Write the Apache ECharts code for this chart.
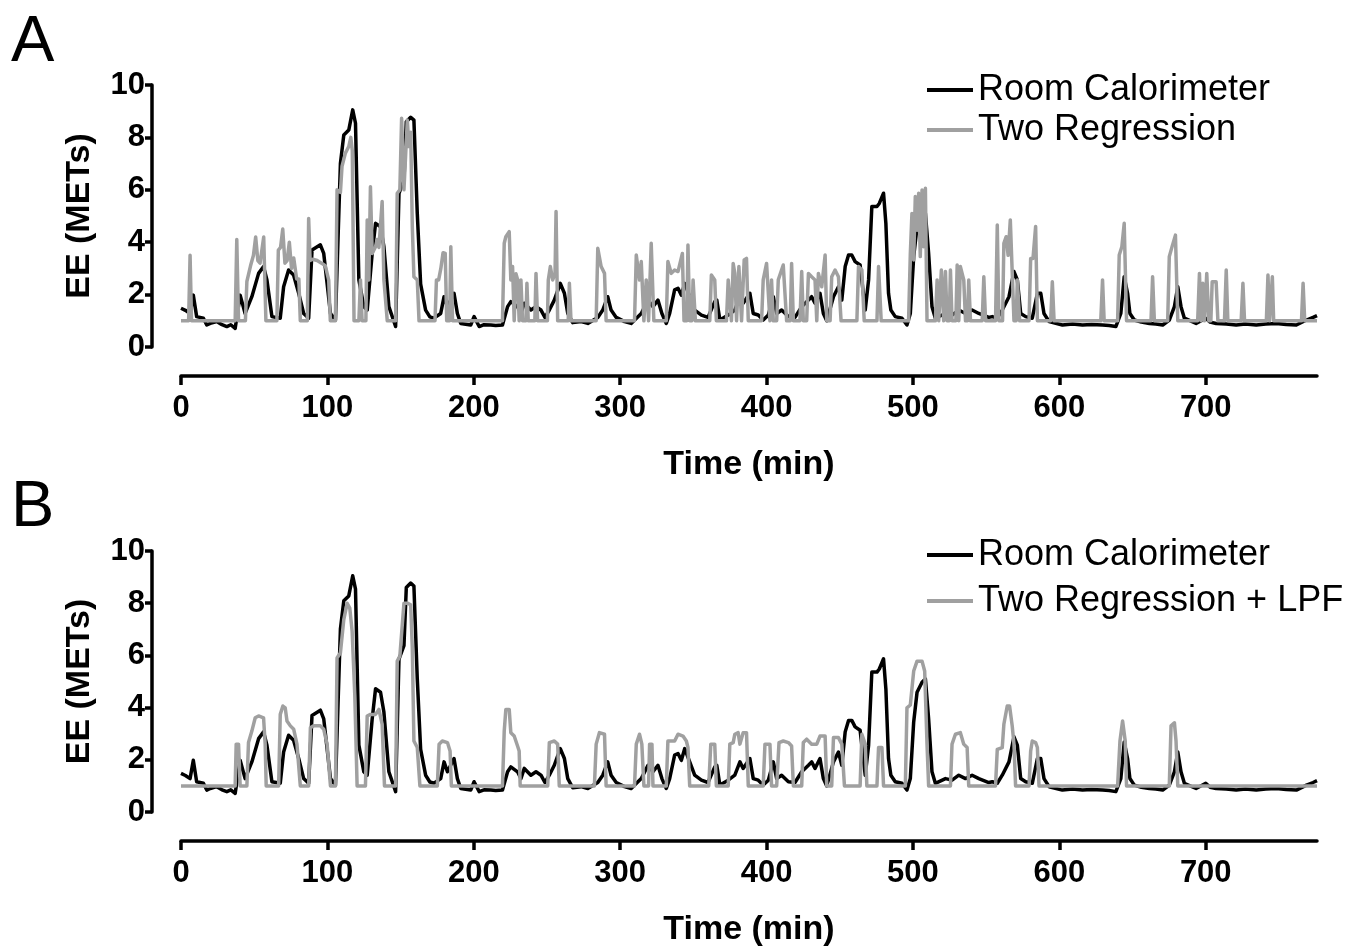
<!DOCTYPE html>
<html>
<head>
<meta charset="utf-8">
<script src="https://cdn.jsdelivr.net/npm/echarts@6/dist/echarts.min.js"></script>
<style>
html,body{margin:0;padding:0;background:#fff;}
#chart{width:1357px;height:948px;}
</style>
</head>
<body>
<div id="chart"></div>
<script>
// ---- data (time in min, EE in METs) ----
const xTicks = [0, 100, 200, 300, 400, 500, 600, 700];
const yTicks = [0, 2, 4, 6, 8, 10];
const xMax = 776;

const calorimeter = [[0,1.48],[3,1.4],[6.2,1.28],[8.4,1.98],[10.7,1.16],[15.3,1.1],[17.6,0.84],[20,0.9],[24.4,0.97],[28,0.85],[31.3,0.78],[34,0.85],[37,0.71],[40.4,1.98],[43.8,1.28],[48.4,1.92],[53,2.81],[56.4,3.07],[58.7,2.56],[62.1,1.16],[67.8,1.1],[70.1,2.3],[73.5,2.94],[76.9,2.75],[80.4,2.05],[83.8,1.28],[87.2,1.1],[89.5,3.7],[95.2,3.9],[97.5,3.57],[102.1,1.28],[105.5,1.03],[108.9,7.01],[111.2,8.09],[114.6,8.28],[117.3,9.05],[119.2,8.54],[121.5,2.56],[124.9,1.54],[127.2,1.41],[130.6,3.57],[132.9,4.72],[136.3,4.59],[138.6,3.83],[142,1.54],[146.6,0.78],[148.9,5.86],[152.3,6.37],[153.9,8.6],[156.9,8.77],[159.1,8.66],[161.4,5.1],[163.7,2.4],[167.1,1.41],[170,1.15],[172.8,1.1],[177.4,1.28],[179.7,1.92],[182,1.54],[186.5,2.05],[188.8,1.28],[191.1,0.9],[197.9,0.84],[200.2,1.16],[203.7,0.78],[207,0.85],[211.6,0.84],[215,0.82],[219.6,0.84],[223.1,1.54],[225.3,1.73],[229.9,1.54],[232.2,1.28],[234.5,1.67],[239,1.41],[242.5,1.54],[245.9,1.41],[248.6,1.13],[251.6,1.41],[255,1.79],[259.1,2.43],[261.9,2.05],[264.2,1.28],[267.6,0.93],[273.3,0.97],[277.9,0.9],[284.7,1.13],[288.1,1.41],[291.5,1.92],[293.8,1.41],[297.3,1.13],[303,0.97],[307.5,0.9],[314.4,1.28],[319,1.79],[322.4,1.54],[325.8,1.79],[328.5,1.28],[331.5,0.9],[333.8,1.28],[337.2,2.18],[339.5,2.24],[341.8,1.98],[344.1,2.43],[347.5,1.92],[350.9,1.41],[355.5,1.22],[360,1.13],[364.6,1.73],[366,1.79],[368.1,1.03],[373.8,1.22],[378.3,1.41],[381.8,1.92],[384,1.67],[388.6,2.05],[390.9,1.28],[394.3,1.22],[397.7,1.03],[401.2,1.22],[404.6,1.92],[406.9,1.28],[410.3,1.41],[414.9,1.16],[419.4,1.13],[424,1.54],[428.6,1.79],[430.8,1.92],[433.1,1.67],[436.5,2.05],[438.8,1.28],[441.1,1.0],[445.7,1.92],[449.1,2.3],[451.4,1.79],[453.7,3.07],[456,3.51],[458.2,3.51],[460.5,3.26],[463.9,3.13],[467.4,1.41],[469.7,2.56],[471.9,5.36],[475.4,5.36],[477,5.48],[479.9,5.87],[481.5,4.72],[483.3,2.05],[484.9,1.41],[487.9,1.16],[492.5,1.1],[495.9,0.84],[498.2,1.28],[500.5,3.45],[502.8,4.59],[506.2,4.97],[508.5,5.1],[510.7,3.57],[513,1.54],[515.3,1.1],[522.2,1.28],[526.7,1.22],[531.3,1.41],[535.9,1.28],[540.4,1.41],[545,1.28],[551.8,1.13],[554.2,1.16],[557.6,1.1],[561,1.41],[565.6,1.92],[569,2.88],[571.3,2.56],[573.6,1.28],[577,1.16],[581.5,1.1],[585,2.05],[587.3,2.05],[589.5,1.28],[593,0.97],[602.1,0.84],[609,0.88],[615.8,0.84],[622,0.86],[629.5,0.84],[634,0.82],[638.6,0.78],[642,1.28],[644.3,2.68],[646.6,2.05],[648.2,1.28],[651.2,1.03],[656,0.95],[661.5,0.9],[666,0.88],[670.6,0.84],[675.1,1.03],[678.6,1.54],[680.9,2.3],[683.1,1.54],[685.4,1.1],[693.4,0.9],[700,1.1],[703,0.95],[707.1,0.9],[714,0.88],[720.8,0.84],[727,0.88],[734.5,0.84],[741,0.88],[748.2,0.9],[755,0.86],[761.9,0.84],[768.8,1.03],[773.3,1.13],[776,1.2]];

const twoRegression = [[0,1],[5.2,1],[6.2,3.5],[7.2,1],[37,1],[38.1,4.1],[39.3,1],[44,1],[45,2.5],[47.5,3.1],[49.5,3.5],[51,4.2],[52.5,3.3],[54,3.2],[56.5,4.2],[58,1],[65.5,1],[66.5,3.7],[68,3.8],[69.5,4.5],[71,3.2],[72.5,3.3],[74,4.0],[75.5,3.0],[77,3.4],[79,2.6],[80.5,2.6],[81.5,1],[86.3,1],[87.2,4.9],[88.2,3.3],[90,3.35],[93,3.3],[96,3.2],[98.6,3.1],[100.9,2.55],[102,1],[105.5,1],[106.6,6.0],[108.9,5.9],[110,6.9],[112.3,7.4],[114.6,7.65],[116,8.0],[117,7.5],[118.2,1],[121.5,1],[122.6,2.56],[123.7,1],[126.3,1],[127.2,4.85],[128.3,2.56],[129.4,6.12],[130.6,3.57],[132.9,3.83],[134,4.1],[135.2,3.8],[137.4,5.55],[138.6,2.56],[140.9,1],[146.6,1],[147.7,5.87],[149.5,6.0],[150.7,8.73],[152.3,6.0],[154.6,8.66],[155.7,7.65],[156.9,8.2],[158,4.6],[159.1,2.68],[161.4,2.56],[162.6,1],[173.5,1],[174.5,2.56],[176,2.56],[177.5,3.0],[179,3.6],[180.5,3.57],[181.5,1],[183.5,1],[184.3,3.83],[185.5,1],[219.6,1],[220.8,3.96],[221.9,4.21],[224.2,4.4],[225.3,2.56],[226.5,3.07],[227.6,1],[228.8,2.8],[230,2.56],[231,1],[232.2,2.56],[233.3,1],[235.6,1],[236.3,2.43],[237.2,1],[241.7,1],[242.5,2.81],[243.6,1],[250.3,1],[250.9,2.56],[252.3,3.07],[253.9,2.56],[255.5,2.8],[256.2,5.17],[257.3,1],[264.5,1],[265.3,2.43],[266.4,1],[283.6,1],[284.7,3.77],[287,3.07],[289.3,2.81],[290.4,1],[309.8,1],[311,3.51],[313.2,2.56],[314.4,3.26],[316.2,1],[317,1],[317.8,2.56],[319.4,1],[320.4,1],[321.2,3.96],[323,1],[331.5,1],[332.6,3.26],[334.9,2.81],[337.2,2.94],[339.5,2.88],[342.5,3.57],[343.6,1],[345.5,1],[346.3,3.89],[347.5,1],[349,1],[349.8,2.56],[351.4,1],[361.2,1],[362.3,2.75],[364.6,2.56],[365.7,1],[372.6,1],[373.8,2.56],[376,1],[377.2,3.19],[378.3,2.81],[379.5,1],[380.4,1],[381.1,3.07],[382.9,1],[384,1],[384.7,3.32],[386.3,3.38],[387.5,1],[396.6,1],[397.7,2.56],[400,3.19],[402.3,1],[403.4,2.56],[404.6,1],[406.9,1],[408,2.56],[411.4,3.13],[413.7,1],[416.2,1],[417.1,3.19],[418.3,1],[422.8,1],[424,2.88],[425.1,1],[427.4,1],[428.6,2.81],[430.8,2.68],[433.1,2.56],[434.3,1],[435.4,2.81],[437.7,2.3],[440,3.51],[441.1,1],[443.4,1],[444.5,2.68],[446.8,2.94],[449.1,2.68],[450.9,1],[461.7,1],[462.8,3.07],[465.1,2.94],[466.7,1],[475.4,1],[476.5,3.07],[478.3,1],[497,1],[498.2,3.57],[499.3,5.1],[500.5,3.32],[501.6,5.74],[502.8,4.46],[503.9,5.87],[505,3.45],[506.2,5.99],[507.3,3.83],[508.5,6.06],[509.6,1],[515.3,1],[516.5,2.56],[517.6,1],[518.5,1],[519.4,2.94],[521,1],[521.5,1],[522.2,2.88],[523.3,1],[524.8,1],[525.6,2.94],[526.7,1],[529.3,1],[530.2,3.13],[531.3,1],[531.8,1],[532.4,3.07],[534.7,2.56],[535.9,1],[537.3,1],[538.1,2.56],[539.3,1],[547.3,1],[548.4,2.68],[549.6,1],[556.4,1],[557.6,4.66],[558.7,1],[561.2,1],[562.1,3.96],[563.7,4.21],[565,3.5],[566.5,4.85],[567.8,4.85],[569,1],[570.5,1],[571.3,2.56],[572.9,1],[579.3,1],[580.4,3.38],[582,3.38],[583.8,4.6],[585,1],[594.1,1],[595.2,2.49],[596.4,1],[628.3,1],[629.5,2.56],[630.6,1],[639.8,1],[640.9,3.51],[642.7,3.83],[644.3,4.72],[645.9,1],[662.6,1],[663.7,2.68],[664.9,1],[674,1],[675.1,3.45],[677,3.83],[679.3,4.27],[680.9,1],[694.5,1],[695.7,2.81],[696.8,1],[697.5,1],[698,2.43],[699.1,1],[700,1],[700.7,2.81],[702.1,1],[703.5,1],[704.4,2.49],[707.1,2.49],[708.3,1],[712.8,1],[714,2.94],[715.1,1],[724.2,1],[725.4,2.43],[726.5,1],[741.4,1],[742.5,2.75],[743.6,1],[744.5,1],[745.5,2.68],[746.4,1],[765.4,1],[766.5,2.43],[767.6,1],[776,1]];

const twoRegressionLPF = [[0,1],[37,1],[37.7,2.6],[39.3,2.6],[40.4,1],[45,1],[46.1,2.66],[47.3,2.7],[48.4,3.1],[50.7,3.61],[53,3.68],[56.4,3.61],[57.5,2.6],[58.2,1],[66.7,1],[67.8,3.74],[69.6,4.06],[71.2,3.99],[72.4,3.49],[74.7,3.3],[77,3.17],[79.2,2.6],[81.5,1],[87.2,1],[88.4,3.23],[90.6,3.3],[95.2,3.3],[97.5,3.17],[99.8,2.6],[102.1,1],[105.5,1],[106.6,5.9],[108.9,6.1],[111.2,7.37],[113.5,8.0],[115.3,7.81],[116.9,6.92],[118.7,4.5],[120.3,1],[126,1],[127.2,3.68],[129.4,3.74],[132.9,3.74],[135.2,3.93],[137.4,3.36],[139,1],[146.6,1],[147.7,5.78],[149.5,5.97],[152.3,8.0],[154.6,8.0],[156.9,7.94],[158,6.29],[159.1,2.72],[161.4,2.47],[163.2,1],[175.1,1],[176.3,2.6],[178.5,2.72],[182,2.66],[183.8,2.34],[184.7,1],[219.6,1],[220.8,3.1],[221.9,3.93],[224.2,3.93],[225.3,3.04],[227.6,2.91],[229.9,2.53],[231,2.34],[231.7,1],[250.5,1],[251.6,2.66],[255,2.72],[257.3,2.6],[258.4,1],[282.4,1],[283.6,2.6],[285.8,3.04],[289.3,2.98],[290.4,1],[309.8,1],[311,2.6],[313.2,2.98],[314.8,2.6],[316.2,1],[319.4,1],[320.1,2.6],[321.7,2.6],[322.4,1],[331.5,1],[332.6,2.72],[337.2,2.72],[339.5,2.98],[342.9,2.91],[345.2,2.72],[346.3,2.47],[347.5,1],[360.5,1],[361.9,2.6],[364.6,2.6],[365.7,1],[373.8,1],[374.9,2.6],[377.2,2.66],[378.3,2.98],[380.6,3.04],[381.8,2.6],[384,3.04],[386.3,3.04],[387.5,1],[397.7,1],[398.9,2.6],[402.3,2.6],[403.4,1],[406.9,1],[408.5,2.66],[411.4,2.72],[414.9,2.66],[417.1,2.53],[418.3,1],[424,1],[425.1,2.66],[427.4,2.79],[430.8,2.6],[434.3,2.6],[436.5,2.91],[440,2.91],[441.1,1],[444.5,1],[445.7,2.85],[449.1,2.85],[451.4,2.6],[453.2,1],[463.9,1],[465.1,2.98],[467.4,2.6],[468.5,1],[475.4,1],[476.5,2.47],[478.8,2.47],[479.9,1],[494.8,1],[495.9,3.99],[498.2,4.1],[500.5,5.4],[502.8,5.78],[506.2,5.78],[508,5.4],[509.6,2.6],[510.7,1],[525.6,1],[526.7,2.6],[529,2.98],[532.4,3.04],[534.7,2.6],[537,2.47],[538.1,1],[556.4,1],[557.6,2.4],[561,2.47],[562.1,3.36],[564.4,4.06],[566,4.06],[567.8,3.3],[569,2.6],[570.1,1],[579.3,1],[580.4,2.34],[581.5,2.72],[583.8,2.66],[585,2.47],[586.1,1],[639.8,1],[641.4,2.72],[643.2,3.49],[645,2.72],[645.9,1],[675.1,1],[676.3,3.3],[678.6,3.42],[679.7,2.72],[680.9,1],[776,1]];

// ---- chart ----
const FONT = '"Liberation Sans", Arial, Helvetica, sans-serif';
const BLACK = '#000000';
const GRAY = '#a0a0a0';

function xAxisCfg(gridIndex) {
  return {
    type: 'value', gridIndex: gridIndex, min: 0, max: xMax, offset: 29,
    name: 'Time (min)', nameLocation: 'middle', nameGap: 72,
    nameTextStyle: {fontFamily: FONT, fontWeight: 'bold', fontSize: 34, color: '#000'},
    splitLine: {show: false},
    axisLine: {show: true, onZero: false, lineStyle: {color: '#000', width: 3.5}},
    axisTick: {show: true, length: 9, lineStyle: {color: '#000', width: 3.5}, customValues: xTicks},
    axisLabel: {fontFamily: FONT, fontWeight: 'bold', fontSize: 31, color: '#000', margin: 17, customValues: xTicks}
  };
}
function yAxisCfg(gridIndex) {
  return {
    type: 'value', gridIndex: gridIndex, min: yTicks[0], max: yTicks[yTicks.length - 1], interval: 2, offset: 29,
    name: 'EE (METs)', nameLocation: 'middle', nameGap: 55,
    nameTextStyle: {fontFamily: FONT, fontWeight: 'bold', fontSize: 34, color: '#000'},
    splitLine: {show: false},
    axisLine: {show: true, onZero: false, lineStyle: {color: '#000', width: 3.5}},
    axisTick: {show: true, length: 7, lineStyle: {color: '#000', width: 3.5}},
    axisLabel: {fontFamily: FONT, fontWeight: 'bold', fontSize: 31, color: '#000', margin: 7}
  };
}
function lineSeries(name, data, color, idx) {
  return {
    name: name, type: 'line', data: data, xAxisIndex: idx, yAxisIndex: idx,
    showSymbol: false, symbol: 'none', smooth: false, sampling: 'none',
    lineStyle: {color: color, width: 3.5, join: 'round'}, itemStyle: {color: color},
    z: color === GRAY ? 3 : 2
  };
}
function legendCfg(top, names, gap) {
  return {
    left: 922, top: top, orient: 'vertical', data: names, icon: 'rect',
    itemWidth: 46, itemHeight: 4, itemGap: gap, selectedMode: false,
    textStyle: {fontFamily: FONT, fontSize: 36, color: '#000', lineHeight: 40}
  };
}

const chart = echarts.init(document.getElementById('chart'), null, {renderer: 'canvas'});
chart.setOption({
  animation: false,
  backgroundColor: '#fff',
  title: [
    {text: 'A', left: 6, top: 6, textStyle: {fontFamily: FONT, fontWeight: 'normal', fontSize: 65, color: '#000'}},
    {text: 'B', left: 6, top: 471, textStyle: {fontFamily: FONT, fontWeight: 'normal', fontSize: 65, color: '#000'}}
  ],
  legend: [
    legendCfg(65, ['Room Calorimeter', 'Two Regression'], 0),
    legendCfg(530, ['Room Calorimeter', 'Two Regression + LPF'], 6)
  ],
  grid: [
    {left: 181, top: 85, width: 1136, height: 262, containLabel: false},
    {left: 181, top: 551, width: 1136, height: 262, containLabel: false}
  ],
  xAxis: [xAxisCfg(0), xAxisCfg(1)],
  yAxis: [yAxisCfg(0), yAxisCfg(1)],
  series: [
    lineSeries('Room Calorimeter', calorimeter, BLACK, 0),
    lineSeries('Two Regression', twoRegression, GRAY, 0),
    lineSeries('Room Calorimeter', calorimeter, BLACK, 1),
    lineSeries('Two Regression + LPF', twoRegressionLPF, GRAY, 1)
  ]
});
</script>
</body>
</html>
